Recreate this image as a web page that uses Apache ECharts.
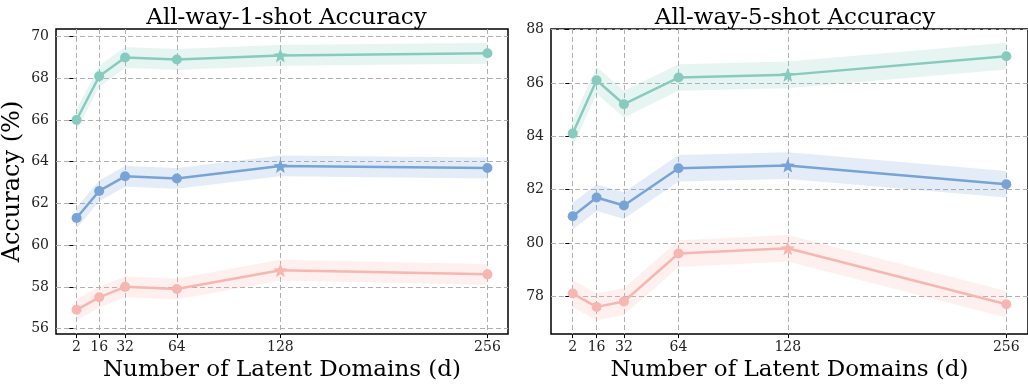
<!DOCTYPE html>
<html>
<head>
<meta charset="utf-8">
<script src="https://cdn.jsdelivr.net/npm/echarts@6.0.0/dist/echarts.min.js"></script>
<style>
html, body { margin: 0; padding: 0; background: #fff; }
#chart { width: 1028px; height: 387px; }
</style>
</head>
<body>
<div id="chart"></div>
<script>
// latent domain counts (x) and tick values
const domains = [2, 16, 32, 64, 128, 256];
const yTicks1 = [56, 58, 60, 62, 64, 66, 68, 70];
const yTicks5 = [78, 80, 82, 84, 86, 88];

// All-way-1-shot accuracy
const shot1Teal = [66.0, 68.1, 69.0, 68.9, 69.1, 69.2];
const shot1Blue = [61.3, 62.6, 63.3, 63.2, 63.8, 63.7];
const shot1Pink = [56.9, 57.5, 58.0, 57.9, 58.8, 58.6];

// All-way-5-shot accuracy
const shot5Teal = [84.1, 86.1, 85.2, 86.2, 86.3, 87.0];
const shot5Blue = [81.0, 81.7, 81.4, 82.8, 82.9, 82.2];
const shot5Pink = [78.1, 77.6, 77.8, 79.6, 79.8, 77.7];

// half-width of the shaded band
const bandHalf = 0.5;

const TEAL = '#86cbbe', BLUE = '#78a3d7', PINK = '#f7b6b0';
const FONT = 'DejaVu Serif';
const STAR = 'path://M50,0 L63,33 L98,35 L71,58 L80,93 L50,74 L20,93 L29,58 L2,35 L37,33 Z';

function band(values, color, idx) {
    return {
        type: 'custom',
        xAxisIndex: idx,
        yAxisIndex: idx,
        silent: true,
        z: 1,
        encode: { x: 0, y: [1, 2] },
        data: domains.map((d, i) => [d, values[i] - bandHalf, values[i] + bandHalf]),
        renderItem: function (params, api) {
            if (params.dataIndex !== 0) return;
            const upper = [], lower = [];
            for (let i = 0; i < domains.length; i++) {
                upper.push(api.coord([domains[i], values[i] + bandHalf]));
                lower.unshift(api.coord([domains[i], values[i] - bandHalf]));
            }
            return {
                type: 'polygon',
                shape: { points: upper.concat(lower) },
                style: { fill: color, opacity: 0.2 }
            };
        }
    };
}

function line(values, color, idx) {
    return {
        type: 'line',
        xAxisIndex: idx,
        yAxisIndex: idx,
        z: 3,
        symbol: 'circle',
        symbolSize: 10,
        lineStyle: { color: color, width: 2.5 },
        itemStyle: { color: color },
        data: domains.map((d, i) => d === 128
            ? { value: [d, values[i]], symbol: STAR, symbolSize: 14 }
            : [d, values[i]])
    };
}

function xAxis(idx) {
    return {
        type: 'value',
        gridIndex: idx,
        min: -10.7,
        max: 268.7,
        name: 'Number of Latent Domains (d)',
        nameLocation: 'middle',
        nameGap: 20,
        nameTextStyle: { fontFamily: FONT, fontSize: 23, color: '#000' },
        axisLine: { show: false },
        axisTick: { show: true, customValues: domains, length: 4, lineStyle: { color: '#000', width: 1 } },
        axisLabel: { customValues: domains, fontFamily: FONT, fontSize: 14, color: '#222', margin: 6 },
        splitLine: { show: true, lineStyle: { color: '#b0b0b0', type: [5, 3], width: 1 } }
    };
}

function yAxis(idx, min, max, ticks, name) {
    return {
        type: 'value',
        gridIndex: idx,
        min: min,
        max: max,
        name: name,
        nameLocation: 'middle',
        nameGap: 31,
        nameTextStyle: { fontFamily: FONT, fontSize: 24, color: '#000' },
        axisLine: { show: false },
        axisTick: { show: true, customValues: ticks, length: 4, lineStyle: { color: '#000', width: 1 } },
        axisLabel: { customValues: ticks, fontFamily: FONT, fontSize: 14, color: '#222', margin: 7 },
        splitLine: { show: true, lineStyle: { color: '#b0b0b0', type: [5, 3], width: 1 } }
    };
}

const chart = echarts.init(document.getElementById('chart'));
chart.setOption({
    animation: false,
    backgroundColor: '#fff',
    title: [
        { text: 'All-way-1-shot Accuracy', left: 281.5, top: 2, textAlign: 'center',
          textStyle: { fontFamily: FONT, fontSize: 23, fontWeight: 'normal', color: '#000' } },
        { text: 'All-way-5-shot Accuracy', left: 790, top: 2, textAlign: 'center',
          textStyle: { fontFamily: FONT, fontSize: 23, fontWeight: 'normal', color: '#000' } }
    ],
    grid: [
        { left: 55, right: 520, top: 29, bottom: 42, show: true, borderColor: '#000', borderWidth: 1.5 },
        { left: 551, right: -1, top: 29, bottom: 42, show: true, borderColor: '#000', borderWidth: 1.5 }
    ],
    xAxis: [xAxis(0), xAxis(1)],
    yAxis: [
        yAxis(0, 55.735, 70.365, yTicks1, 'Accuracy (%)'),
        yAxis(1, 76.58, 88.02, yTicks5, '')
    ],
    series: [
        band(shot1Teal, TEAL, 0), band(shot1Blue, BLUE, 0), band(shot1Pink, PINK, 0),
        line(shot1Teal, TEAL, 0), line(shot1Blue, BLUE, 0), line(shot1Pink, PINK, 0),
        band(shot5Teal, TEAL, 1), band(shot5Blue, BLUE, 1), band(shot5Pink, PINK, 1),
        line(shot5Teal, TEAL, 1), line(shot5Blue, BLUE, 1), line(shot5Pink, PINK, 1)
    ]
});

window.addEventListener('resize', function () {
    chart.resize();
});
</script>
</body>
</html>
